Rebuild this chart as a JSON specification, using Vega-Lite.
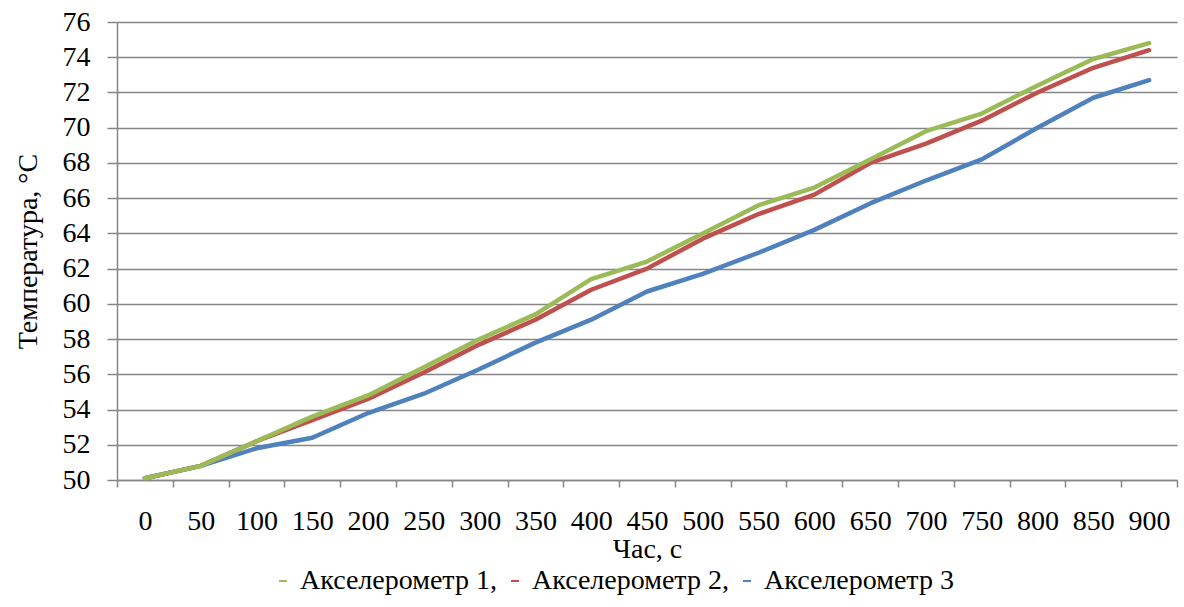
{
  "$schema": "https://vega.github.io/schema/vega-lite/v6.json",
  "width": 1060,
  "height": 458,
  "autosize": {"type": "none"},
  "padding": {"left": 117, "top": 22, "right": 7, "bottom": 127},
  "background": "white",
  "view": {"stroke": null},
  "data": {
    "values": [
      {"t": 0, "s": "Акселерометр 1,", "v": 50.1},
      {"t": 50, "s": "Акселерометр 1,", "v": 50.8},
      {"t": 100, "s": "Акселерометр 1,", "v": 52.2},
      {"t": 150, "s": "Акселерометр 1,", "v": 53.6},
      {"t": 200, "s": "Акселерометр 1,", "v": 54.8},
      {"t": 250, "s": "Акселерометр 1,", "v": 56.4},
      {"t": 300, "s": "Акселерометр 1,", "v": 58.0},
      {"t": 350, "s": "Акселерометр 1,", "v": 59.4},
      {"t": 400, "s": "Акселерометр 1,", "v": 61.4},
      {"t": 450, "s": "Акселерометр 1,", "v": 62.4},
      {"t": 500, "s": "Акселерометр 1,", "v": 64.0},
      {"t": 550, "s": "Акселерометр 1,", "v": 65.6},
      {"t": 600, "s": "Акселерометр 1,", "v": 66.6},
      {"t": 650, "s": "Акселерометр 1,", "v": 68.2},
      {"t": 700, "s": "Акселерометр 1,", "v": 69.8},
      {"t": 750, "s": "Акселерометр 1,", "v": 70.8},
      {"t": 800, "s": "Акселерометр 1,", "v": 72.4},
      {"t": 850, "s": "Акселерометр 1,", "v": 73.9},
      {"t": 900, "s": "Акселерометр 1,", "v": 74.8},
      {"t": 0, "s": "Акселерометр 2,", "v": 50.1},
      {"t": 50, "s": "Акселерометр 2,", "v": 50.8},
      {"t": 100, "s": "Акселерометр 2,", "v": 52.2},
      {"t": 150, "s": "Акселерометр 2,", "v": 53.4},
      {"t": 200, "s": "Акселерометр 2,", "v": 54.6},
      {"t": 250, "s": "Акселерометр 2,", "v": 56.1},
      {"t": 300, "s": "Акселерометр 2,", "v": 57.7},
      {"t": 350, "s": "Акселерометр 2,", "v": 59.1},
      {"t": 400, "s": "Акселерометр 2,", "v": 60.8},
      {"t": 450, "s": "Акселерометр 2,", "v": 62.0},
      {"t": 500, "s": "Акселерометр 2,", "v": 63.7},
      {"t": 550, "s": "Акселерометр 2,", "v": 65.1},
      {"t": 600, "s": "Акселерометр 2,", "v": 66.2},
      {"t": 650, "s": "Акселерометр 2,", "v": 68.0},
      {"t": 700, "s": "Акселерометр 2,", "v": 69.1},
      {"t": 750, "s": "Акселерометр 2,", "v": 70.4},
      {"t": 800, "s": "Акселерометр 2,", "v": 72.0},
      {"t": 850, "s": "Акселерометр 2,", "v": 73.4},
      {"t": 900, "s": "Акселерометр 2,", "v": 74.4},
      {"t": 0, "s": "Акселерометр 3", "v": 50.1},
      {"t": 50, "s": "Акселерометр 3", "v": 50.8},
      {"t": 100, "s": "Акселерометр 3", "v": 51.8},
      {"t": 150, "s": "Акселерометр 3", "v": 52.4},
      {"t": 200, "s": "Акселерометр 3", "v": 53.8},
      {"t": 250, "s": "Акселерометр 3", "v": 54.9},
      {"t": 300, "s": "Акселерометр 3", "v": 56.3},
      {"t": 350, "s": "Акселерометр 3", "v": 57.8},
      {"t": 400, "s": "Акселерометр 3", "v": 59.1},
      {"t": 450, "s": "Акселерометр 3", "v": 60.7},
      {"t": 500, "s": "Акселерометр 3", "v": 61.7},
      {"t": 550, "s": "Акселерометр 3", "v": 62.9},
      {"t": 600, "s": "Акселерометр 3", "v": 64.2},
      {"t": 650, "s": "Акселерометр 3", "v": 65.7},
      {"t": 700, "s": "Акселерометр 3", "v": 67.0},
      {"t": 750, "s": "Акселерометр 3", "v": 68.2},
      {"t": 800, "s": "Акселерометр 3", "v": 70.0},
      {"t": 850, "s": "Акселерометр 3", "v": 71.7},
      {"t": 900, "s": "Акселерометр 3", "v": 72.7}
    ]
  },
  "encoding": {
    "x": {
      "field": "t",
      "type": "ordinal",
      "bandPosition": 0.5,
      "scale": {"type": "band", "paddingInner": 0, "paddingOuter": 0},
      "axis": {
        "title": "Час, с",
        "labelFont": "Times New Roman",
        "titleFont": "Times New Roman",
        "labelFontSize": 28,
        "titleFontSize": 28,
        "titleFontWeight": "normal",
        "labelColor": "#000000",
        "titleColor": "#000000",
        "domainColor": "#868686",
        "tickColor": "#868686",
        "domainWidth": 1.5,
        "tickWidth": 1.5,
        "labelAngle": 0,
        "grid": false,
        "tickBand": "extent",
        "tickSize": 7,
        "labelPadding": 20,
        "titlePadding": 0
      }
    },
    "y": {
      "field": "v",
      "type": "quantitative",
      "scale": {"domain": [50, 76], "nice": false, "zero": false},
      "axis": {
        "title": "Температура, °C",
        "labelFont": "Times New Roman",
        "titleFont": "Times New Roman",
        "labelFontSize": 28,
        "titleFontSize": 28,
        "titleFontWeight": "normal",
        "labelColor": "#000000",
        "titleColor": "#000000",
        "domainColor": "#868686",
        "tickColor": "#868686",
        "gridColor": "#868686",
        "gridOpacity": 1,
        "domainWidth": 1.5,
        "tickWidth": 1.5,
        "gridWidth": 1.5,
        "values": [50, 52, 54, 56, 58, 60, 62, 64, 66, 68, 70, 72, 74, 76],
        "tickSize": 10,
        "labelPadding": 17,
        "titlePadding": 20
      }
    },
    "color": {
      "field": "s",
      "type": "nominal",
      "scale": {
        "domain": ["Акселерометр 1,", "Акселерометр 2,", "Акселерометр 3"],
        "range": ["#9BBB59", "#C0504D", "#4F81BD"]
      },
      "legend": {
        "title": null,
        "orient": "none",
        "direction": "horizontal",
        "legendX": 152,
        "legendY": 545,
        "symbolType": "stroke",
        "symbolSize": 64,
        "symbolStrokeWidth": 2,
        "labelFont": "Times New Roman",
        "labelFontSize": 28,
        "labelColor": "#000000",
        "labelLimit": 400,
        "columnPadding": 4,
        "labelOffset": 3
      }
    }
  },
  "layer": [
    {
      "transform": [{"filter": "datum.s == 'Акселерометр 3'"}],
      "mark": {"type": "line", "strokeWidth": 4.5, "strokeCap": "round", "strokeJoin": "round"}
    },
    {
      "transform": [{"filter": "datum.s == 'Акселерометр 2,'"}],
      "mark": {"type": "line", "strokeWidth": 4.5, "strokeCap": "round", "strokeJoin": "round"}
    },
    {
      "transform": [{"filter": "datum.s == 'Акселерометр 1,'"}],
      "mark": {"type": "line", "strokeWidth": 4.5, "strokeCap": "round", "strokeJoin": "round"}
    }
  ]
}
